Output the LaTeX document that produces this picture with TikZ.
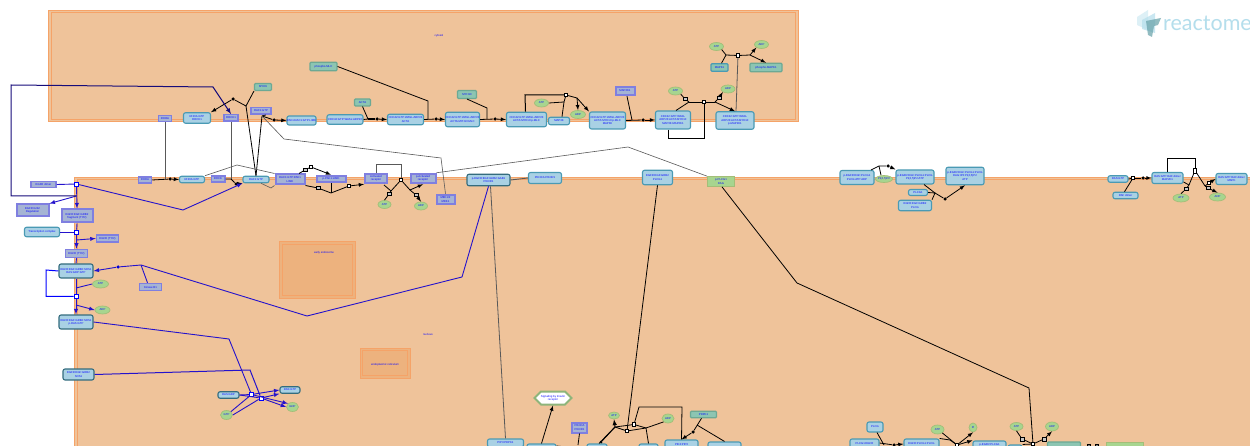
\documentclass[tikz,border=0pt]{standalone}
\usepackage{fontspec}
\setmainfont{Liberation Sans}
\newfontfamily\logofont{Lato}
\usetikzlibrary{shapes.geometric,shapes.misc,shapes.symbols}
\definecolor{compfill}{HTML}{EFC39A}
\definecolor{compline}{HTML}{F5A368}
\definecolor{subfill}{HTML}{EDB27E}
\definecolor{cplxfill}{HTML}{A9D1E4}
\definecolor{cplxline}{HTML}{4A9AB4}
\definecolor{protfill}{HTML}{A5B4D4}
\definecolor{protline}{HTML}{7F7FE0}
\definecolor{tealfill}{HTML}{8CC5B2}
\definecolor{tealline}{HTML}{6CA994}
\definecolor{chemfill}{HTML}{A7D58F}
\definecolor{chemline}{HTML}{A3BE78}
\definecolor{labelblue}{HTML}{0A0AFF}
\definecolor{linkblue}{HTML}{2412CC}
\definecolor{logoblue}{HTML}{B4DEEC}
\tikzset{
  every node/.style={font=\fontsize{2.8}{3.2}\selectfont, text=labelblue, align=center, inner sep=0pt},
  comp/.style={draw=compline, line width=1pt, fill=compfill},
  compin/.style={draw=compline, line width=1pt},
  cplx/.style={draw=cplxline, fill=cplxfill, line width=1.1pt, rectangle, rounded corners=2pt},
  prot/.style={draw=protline, fill=protfill, line width=1.5pt, rectangle},
  protb/.style={prot, line width=2pt},
  teal/.style={draw=tealline, fill=tealfill, line width=1.1pt, rectangle, rounded corners=1pt},
  chem/.style={draw=chemline, fill=chemfill, line width=.7pt, ellipse, minimum width=14pt, minimum height=8pt},
  ppi/.style={draw=chemline, fill=chemfill, line width=.8pt, rectangle},
  rxn/.style={draw=black, fill=white, line width=.6pt, rectangle, minimum size=3.5pt},
  brxn/.style={draw=blue, fill=white, line width=.8pt, rectangle, minimum size=4pt},
  grxn/.style={draw=black, fill=gray!45, line width=.5pt, rectangle, minimum size=3.5pt},
  bead/.style={fill=black, circle, minimum size=3.5pt},
  bbead/.style={fill=blue!85!black, circle, minimum size=3.5pt},
  rline/.style={draw=black, line width=.8pt},
  bline/.style={draw=linkblue, line width=.9pt},
  gline/.style={draw=black!65, line width=.6pt},
  >=latex
}
\begin{document}
\begin{tikzpicture}[x=1pt, y=-1pt]
  \path[use as bounding box, clip] (0,0) rectangle (1250,446);
  \fill[white] (0,0) rectangle (1250,446);
  % top compartment
  \draw[comp] (48.5,10.5) rectangle (798,122);
  \draw[compin] (51,13) rectangle (795.5,119.5);
  \node at (439,36) {cytosol};
  % main compartment
  \draw[comp] (74.5,177.5) rectangle (1270,470);
  \draw[compin] (77,180) rectangle (1270,470);
  \node at (428,334) {nucleus};
  % small compartments
  \draw[comp, fill=subfill] (279,242) rectangle (355,299);
  \draw[compin] (282,245) rectangle (352,296);
  \node at (324,253) {early endosome};
  \draw[comp, fill=subfill] (360,348) rectangle (410,378);
  \draw[compin] (362.5,350.5) rectangle (407.5,375.5);
  \node at (385,365) {endoplasmic reticulum};
  % logo
  \fill[logoblue, opacity=.45] (1137,17) -- (1148,10) -- (1148,30) -- (1137,25) -- cycle;
  \fill[logoblue, opacity=.7] (1142,20) -- (1155,13) -- (1155,33) -- (1142,29) -- cycle;
  \fill[logoblue!80!cyan!70!black, opacity=.7] (1146,21) -- (1161,18) -- (1158,25) -- (1154,26) -- (1152,37) -- (1148,35) -- cycle;
  \node[font=\logofont\fontsize{21.5}{22}\selectfont, text=logoblue, anchor=base west] (logo) at (1163,31) {reactome};

  % top row, left part
  \node[prot, minimum width=13pt, minimum height=6pt] (topA) at (165,118.5) {RHOA};
  \node[cplx, minimum width=27pt, minimum height=10.5pt] (topB) at (197,118) {RHOA:GTP\\ROCK1};
  \node[prot, minimum width=14pt, minimum height=6.5pt] (topC) at (231,118) {ROCK1};
  \node[teal, minimum width=17pt, minimum height=7pt] (topD) at (263,87) {MYH9};
  \node[prot, minimum width=20pt, minimum height=6.5pt] (topE) at (261,111) {RAC1:GTP};
  \node[cplx, minimum width=29pt, minimum height=9pt] (topF) at (301.5,120.5) {PAK1:RAC1:GTP:LIMK};
  \node[cplx, minimum width=36pt, minimum height=9.5pt] (topG) at (345,119.5) {CDC42:GTP:WASL:ARP23};
  \node[teal, minimum width=27pt, minimum height=8.5pt] (topH) at (323.5,66.5) {phospho-MLC};
  \node[teal, minimum width=16pt, minimum height=7pt] (topI) at (362.5,102.5) {ACTA};
  \node[cplx, minimum width=36pt, minimum height=10.5pt] (topJ) at (405.5,119.5) {CDC42:GTP:WASL:ARP23\\ACTA};
  \node[teal, minimum width=19pt, minimum height=8pt] (topK) at (467,94.5) {MYH10};
  \node[cplx, minimum width=32pt, minimum height=14.5pt] (topL) at (462.5,119.5) {CDC42:GTP:WASL:ARP23\\ACTA:MYH10:MLC};
  \node[cplx, minimum width=40pt, minimum height=14.5pt] (topM) at (526.5,119.5) {CDC42:GTP:WASL:ARP23\\ACTA:MYH10:p-MLC};
  \node[chem] (topN) at (541.5,103) {ATP};
  \node[cplx, minimum width=21pt, minimum height=7.5pt] (topO) at (559,121) {MAP3K};
  \node[chem, minimum width=15pt] (topP) at (578,114.5) {ADP};
  \node[cplx, minimum width=36pt, minimum height=17pt] (topQ) at (607.5,120.5) {CDC42:GTP:WASL:ARP23\\ACTA:MYH10:p-MLC\\MAP3K};
  \node[protb, minimum width=19pt, minimum height=8.5pt] (topR) at (625,91) {MAP2K1};
  \node[cplx, minimum width=35pt, minimum height=18pt] (topS) at (673,120) {CDC42:GTP:WASL\\ARP23:ACTA:MYH10\\MAP3K:MAP2K1};
  \node[chem] (topT) at (675.5,91) {ATP};
  \node[chem] (topU) at (728,89) {ADP};
  \node[cplx, minimum width=38pt, minimum height=17.5pt] (topV) at (735,120.5) {CDC42:GTP:WASL\\ARP23:ACTA:MYH10\\p-MAP2K1};
  \node[chem] (topW) at (716.5,46.5) {ATP};
  \node[chem] (topX) at (761.5,44.5) {ADP};
  \node[teal, draw=cplxline, minimum width=17pt, minimum height=7.5pt] (topY) at (719.5,67.5) {MAPK1};
  \node[teal, minimum width=32pt, minimum height=8.5pt] (topZ) at (766,67.5) {phospho-MAPK1};
  \node[rxn] (rxA) at (738,55.5) {};
  \node[rxn] (rxB) at (704,102) {};
  \node[grxn] (rxC) at (685,99) {};
  \node[grxn] (rxD) at (719,98) {};
  \node[rxn] (rxE) at (566,95) {};
  \node[bead] (dtA) at (233,99) {};
  \node[bead] (dtB) at (274,120) {};
  \node[bead] (dtC) at (377,119) {};
  \node[bead] (dtD) at (436,119) {};
  \node[bead] (dtE) at (495,119) {};
  \node[bead] (dtF) at (643,120) {};
  \coordinate (jnA) at (246,106);
  \coordinate (jnB) at (368,119);
  \coordinate (jnC) at (428,119);
  \coordinate (jnD) at (487,119);
  \coordinate (jnE) at (632,120);
  \coordinate (jnF) at (689,102);
  \coordinate (jnG) at (715,102);
  \coordinate (jnH) at (726,55);
  \coordinate (jnI) at (750,55);
  \coordinate (jnJ) at (564,102);
  \coordinate (jnK) at (577,98);
  \coordinate (jnL) at (262,116);
  % top row reactions
  \draw[rline] (topD.south west) -- (jnA) -- (dtA);
  \draw[rline, ->] (dtA) -- (topB.north east);
  \draw[rline] (topE.south east) ++(-6,0) -- (jnL);
  \draw[rline] (jnL) -- (dtB);
  \draw[rline, ->] (dtB) -- (topF.west);
  \draw[rline] (topG.east) ++(0,0) -- (jnB);
  \draw[rline] (topI.south) -- (jnB);
  \draw[rline, line width=1.2pt] (jnB) -- (dtC);
  \draw[rline, ->] (dtC) -- (topJ.west);
  \draw[rline] (topH.east) -- (428,101) -- (jnC);
  \draw[rline] (topJ.east) -- (dtD);
  \draw[rline, ->] (dtD) -- (topL.west);
  \draw[rline] (topK.south) ++(0,0) -- (487,108) -- (jnD);
  \draw[rline] (topL.east) -- (dtE);
  \draw[rline, ->] (dtE) -- (topM.west);
  \draw[rline, line width=1pt] (topM.north) ++(-1,0) -- (525,95) -- (rxE);
  \draw[rline] (topN.east) -- (jnJ) -- (rxE);
  \draw[rline] (topO.north) ++(3,0) -- (jnJ);
  \draw[rline] (rxE) -- (jnK);
  \draw[rline, ->] (jnK) -- (topP.north);
  \draw[rline, ->] (jnK) -- (topQ.north west);
  \draw[rline] (topR.south) ++(2,0) -- (jnE);
  \draw[rline] (topQ.east) -- (dtF);
  \draw[rline, ->] (dtF) -- (topS.west);
  \draw[rline] (topS.south) ++(-5,0) -- (668,138) -- (704,138) -- (rxB);
  \draw[rline] (topS.north) ++(3,0) -- (jnF);
  \draw[rline] (topT.south east) -- (rxC) -- (jnF);
  \draw[rline] (jnF) -- (rxB) -- (jnG);
  \draw[rline, ->] (jnG) -- (rxD) -- (topU.south west);
  \draw[rline, ->] (jnG) -- (topV.north);
  \draw[gline, line width=.8pt] (topV.north) ++(1,0) -- (rxA);
  \draw[rline] (topW.south east) -- (jnH);
  \draw[rline] (topY.north) ++(2,0) -- (jnH);
  \draw[rline] (jnH) -- (rxA) -- (jnI);
  \draw[rline, ->] (jnI) -- (topX.south west);
  \draw[rline, ->] (jnI) -- (topZ.north);

  % membrane row
  \node[prot, minimum width=25pt, minimum height=6pt] (memA) at (43.5,184.5) {EGFR dimer};
  \node[prot, minimum width=13pt, minimum height=6pt] (memB) at (145,180) {RHOA};
  \node[cplx, minimum width=25pt, minimum height=6.5pt] (memC) at (192,179.5) {RHOA:GTP};
  \node[prot, minimum width=13.5pt, minimum height=6pt] (memD) at (218,179) {ROCK};
  \node[cplx, minimum width=26pt, minimum height=6.5pt] (memE) at (256,179.5) {RAC1:GTP};
  \node[protb, minimum width=29pt, minimum height=10pt] (memF) at (290,179.5) {RAC1:GTP:PAK1\\LIMK};
  \node[protb, minimum width=29pt, minimum height=6.5pt] (memG) at (331,179) {p-PAK1:LIMK};
  \node[protb, minimum width=22pt, minimum height=9.5pt] (memH) at (376,178.5) {Activated\\receptor};
  \node[protb, minimum width=25pt, minimum height=9.5pt] (memI) at (423,178.5) {p-Activated\\receptor};
  \node[protb, minimum width=18pt, minimum height=9.5pt] (memJ) at (445.5,199.5) {MEK1/2\\MEK1};
  \node[chem, minimum width=13pt] (memK) at (384.5,204.5) {ATP};
  \node[chem, minimum width=13pt] (memL) at (421,206) {ADP};
  \node[cplx, draw=cplxline!70!black, minimum width=43pt, minimum height=11.5pt] (memM) at (488.5,180) {p-EGFR:EGF:GRB2:GAB1\\PIK3R1};
  \node[cplx, minimum width=33pt, minimum height=11pt] (memN) at (545,178) {PIK3CA:PIK3R1};
  \node[cplx, minimum width=30pt, minimum height=14.5pt] (memO) at (657.5,177.5) {EGFR:EGF:GRB2\\PLCG1};
  \node[ppi, minimum width=27.5pt, minimum height=10pt] (memP) at (721,181.5) {p-PLCG1\\DAG};
  \node[rxn] (rxF) at (311,167) {};
  \node[grxn] (rxG) at (305,170) {};
  \node[grxn] (rxH) at (318,188) {};
  \node[rxn] (rxI) at (349,186) {};
  \node[rxn] (rxJ) at (401,180) {};
  \node[grxn] (rxK) at (389,194) {};
  \node[grxn] (rxL) at (416,195) {};
  \node[bead] (dtG) at (170,179) {};
  \node[bead] (dtH) at (236,184) {};
  \coordinate (jnM) at (165,179);
  \coordinate (jnN) at (231,179);
  \coordinate (jnO) at (331,193);
  \coordinate (jnP) at (391,191);
  \coordinate (jnQ) at (410,190);
  \draw[rline] (memB.east) -- (dtG);
  \draw[rline, ->] (dtG) -- (memC.west);
  \draw[gline, line width=.8pt] (topA.south) -- (jnM);
  \draw[gline, line width=.8pt] (topC.south) -- (jnN);
  \draw[rline] (memD.east) -- (jnN) -- (dtH);
  \draw[rline, ->] (dtH) -- (memE.south west);
  \draw[rline] (jnA) -- (memE.north);
  \draw[rline] (jnL) -- (memE.north);
  \draw[gline] (jnL) -- (284,139) -- (441,158) -- (memJ.north);
  \draw[gline] (memC.north east) -- (237,165) -- (memF.north west);
  \draw[gline] (memE.south) ++(5,0) -- (271,188) -- (memF.south west);
  \draw[rline] (memF.north) ++(9,0) -- (rxG);
  \draw[rline] (rxG) -- (rxF);
  \draw[rline, ->] (rxF) -- (memG.north);
  \draw[rline] (memF.south east) -- (rxH) -- (jnO);
  \draw[rline] (memG.south) -- (jnO);
  \draw[rline, ->] (jnO) -- (rxI) -- (memH.south west);
  \draw[gline, line width=1pt] (memH.north) -- (376,165) -- (401,165) -- (rxJ);
  \draw[rline] (rxJ) -- (jnP);
  \draw[rline] (384,185) -- (jnP);
  \draw[rline] (jnP) -- (rxK) -- (memK.north);
  \draw[rline] (rxJ) -- (jnQ);
  \draw[rline, ->] (jnQ) -- (memI.south);
  \draw[rline, ->] (jnQ) -- (rxL) -- (memL.north);
  \draw[gline] (memI.north east) -- (628,147) -- (memP.north west);
  \draw[gline, line width=.9pt] (memM.east) -- (memN.west);

  % left column
  \node[protb, minimum width=32pt, minimum height=12pt] (lftA) at (32.5,210.5) {EGFR:Grb2\\Regulation};
  \node[protb, minimum width=31pt, minimum height=13pt] (lftB) at (77,216) {EGFR:EGF:GRB2\\fragment (TYR)};
  \node[cplx, minimum width=35pt, minimum height=9.5pt] (lftC) at (42,232) {Transcription complex};
  \node[prot, minimum width=22pt, minimum height=7pt] (lftD) at (107.5,238.5) {EGFR (TYR)};
  \node[prot, minimum width=22pt, minimum height=8pt] (lftE) at (76.5,253.5) {EGFR (TYR)};
  \node[cplx, draw=cplxline!70!black, minimum width=34pt, minimum height=14pt] (lftF) at (76,271) {EGFR:EGF:GRB2:SOS1\\RAS:GDP:GTP};
  \node[chem, minimum width=16pt] (lftG) at (100.5,284) {ATP};
  \node[chem, minimum width=15pt] (lftH) at (102.5,310) {ADP};
  \node[cplx, draw=cplxline!70!black, minimum width=34pt, minimum height=14pt] (lftI) at (76,322) {EGFR:EGF:GRB2:SOS1\\p-RAS:GTP};
  \node[prot, minimum width=22pt, minimum height=7pt] (lftJ) at (150.5,287) {Kinase B1};
  \node[brxn] (rxM) at (76.5,184) {};
  \node[brxn] (rxN) at (76.5,232) {};
  \node[brxn] (rxO) at (76,296.5) {};
  \node[bbead] (dtI) at (118,267) {};
  \coordinate (jnR) at (76.5,196);
  \coordinate (jnS) at (76.5,240);
  \coordinate (jnT) at (76,288);
  \coordinate (jnU) at (76,305);
  \coordinate (jnV) at (141,265);
  \draw[bline] (memA.east) -- (rxM);
  \draw[bline, ->] (rxM) -- (183,210) -- (memE.south west);
  \draw[bline, ->] (rxM) -- (lftB.north);
  \draw[bline, ->] (jnR) -- (lftA.north east);
  \draw[bline, ->, draw=black!40!linkblue, line width=1pt] (jnR) -- (11,196) -- (11,85) -- (213,87) -- (topC.north);
  \draw[bline] (lftB.south) -- (rxN);
  \draw[bline] (lftC.east) -- (rxN);
  \draw[bline, ->] (rxN) -- (lftE.north);
  \draw[bline, ->] (jnS) -- (lftD.west);
  \draw[bline] (lftE.south) -- (lftF.north);
  \draw[bline] (lftF.south) -- (rxO);
  \draw[bline, draw=blue, line width=1pt] (lftF.west) -- (46,270) -- (46,296.5) -- (rxO);
  \draw[bline] (lftG.west) -- (jnT);
  \draw[bline, ->] (rxO) -- (lftI.north);
  \draw[bline, ->] (jnU) -- (lftH.west);
  \draw[bline, ->] (jnV) -- (dtI) -- (lftF.east);
  \draw[bline] (lftJ.north) ++(-3,0) -- (jnV);
  \draw[bline] (jnV) -- (307,316) -- (462,277) -- (memM.south);

  % bottom left group
  \node[cplx, draw=cplxline!70!black, minimum width=31pt, minimum height=11pt] (botA) at (78.5,374.5) {EGFR:EGF:GRB2\\SOS1};
  \node[cplx, draw=cplxline!70!black, minimum width=21pt, minimum height=6.5pt] (botB) at (228.5,395) {RAS:GDP};
  \node[cplx, draw=cplxline!70!black, minimum width=20pt, minimum height=6.5pt] (botC) at (290,390) {RAS:GTP};
  \node[chem, minimum width=12pt, minimum height=9pt] (botD) at (226.5,415) {GTP};
  \node[chem, minimum width=12pt, minimum height=9pt] (botE) at (292.5,407) {GDP};
  \node[brxn] (rxP) at (251.5,394.5) {};
  \node[brxn] (rxQ) at (261,398) {};
  \draw[bline] (lftI.east) -- (229,339) -- (rxP);
  \draw[bline, line width=1pt] (botA.east) -- (250,370) -- (rxQ);
  \draw[bline] (botB.east) -- (rxP);
  \draw[bline] (botB.east) -- (rxQ);
  \draw[bline] (botD.north east) -- (rxP);
  \draw[bline] (botD.east) -- (rxQ);
  \draw[bline, ->] (rxP) -- (botC.west);
  \draw[bline, ->] (rxQ) -- (botC.south west);
  \draw[bline, ->] (rxP) -- (botE.north west);
  \draw[bline, ->] (rxQ) -- (botE.west);

  % bottom centre group
  \node[draw=chemfill!85!black, fill=white, line width=2pt, signal, signal to=east and west, minimum width=34pt, minimum height=13pt] (cpH) at (553,398) {Signaling by Insulin\\receptor};
  \node[protb, minimum width=15pt, minimum height=10pt] (cpB) at (579.5,427.5) {PIK3CA\\PIK3R1};
  \node[cplx, minimum width=36pt, minimum height=8pt] (cpA) at (505.5,443) {PIP3:PDPK1};
  \node[cplx, minimum width=29pt, minimum height=10pt] (cpC) at (541.5,449) {};
  \node[cplx, minimum width=20pt, minimum height=10pt] (cpD) at (597,449) {};
  \node[cplx, minimum width=19pt, minimum height=10pt] (cpE) at (648.5,449) {};
  \node[cplx, minimum width=33pt, minimum height=9pt] (cpF) at (681.5,444.5) {PIK3:PIP3};
  \node[cplx, minimum width=33pt, minimum height=6pt] (cpG) at (724.5,445) {};
  \node[teal, minimum width=26pt, minimum height=6.5pt] (cpI) at (703.5,414.5) {PDPK1};
  \node[chem, minimum width=11pt, minimum height=7pt] (cpJ) at (614,415.5) {ATP};
  \node[chem, minimum width=12pt, minimum height=9pt] (cpK) at (668,418.5) {ADP};
  \node[rxn] (rxR) at (627,431) {};
  \node[rxn] (rxS) at (634,424.5) {};
  \node[bead] (dtJ) at (693,432) {};
  \node[bead, minimum size=3pt] (dtK) at (601,442) {};
  \coordinate (jnW) at (615,427);
  \coordinate (jnX) at (646,428);
  \coordinate (jnY) at (697,425);
  \draw[gline, line width=.8pt] (memM.south) ++(2,0) -- (cpA.north);
  \draw[rline, ->] (cpC.north) -- (cpH.south);
  \draw[rline] (cpB.south) -- (578,445);
  \draw[rline] (cpC.east) ++(0,-3) -- (cpD.west);
  \draw[rline, ->, line width=1pt] (dtK) -- (jnW) -- (cpJ.south);
  \draw[rline] (cpD.north) ++(2,0) -- (jnW);
  \draw[rline] (jnW) -- (rxR) -- (jnX);
  \draw[rline] (jnW) -- (rxS) -- (jnX);
  \draw[rline] (jnX) -- (cpK.south west);
  \draw[rline] (jnX) -- (cpE.north);
  \draw[rline] (rxS) -- (639,407) -- (682,407) -- (cpF.north);
  \draw[rline] (memO.south) -- (rxR);
  \draw[rline] (cpI.south) ++(-2,0) -- (dtJ);
  \draw[rline, ->] (dtJ) -- (cpF.north);
  \draw[rline] (jnY) -- (cpG.north);

  % bottom right group
  \node[cplx, minimum width=16pt, minimum height=10pt] (brA) at (875,427) {PLCG};
  \node[cplx, minimum width=29pt, minimum height=10pt] (brB) at (864.5,444) {PLCG1:EGFR};
  \node[cplx, minimum width=35pt, minimum height=10pt] (brC) at (921.5,444) {EGFR:PLCG1:PLCG};
  \node[cplx, minimum width=33pt, minimum height=7pt] (brD) at (989.5,444.5) {p-EGFR:PLCG1};
  \node[chem, minimum width=13pt, minimum height=9pt] (brE) at (937.5,429.5) {ATP};
  \node[chem, minimum width=8pt, minimum height=9pt] (brF) at (973,427.5) {Pi};
  \node[chem, minimum width=13pt] (brG) at (1016.5,426.5) {ATP};
  \node[chem, minimum width=13pt, minimum height=9pt] (brH) at (1052,426.5) {ADP};
  \node[cplx, minimum width=14pt, minimum height=6pt] (brI) at (1015,448) {};
  \node[teal, minimum width=33pt, minimum height=12pt] (brJ) at (1064,448) {};
  \node[ppi, minimum width=37pt, minimum height=12pt] (brK) at (1125,448) {};
  \node[rxn] (rxT) at (957,445) {};
  \node[rxn] (rxU) at (1033,444) {};
  \node[grxn] (rxV) at (1022,439) {};
  \node[grxn] (rxW) at (1044,439) {};
  \node[bead] (dtL) at (894,445) {};
  \node[rxn, fill=black!50, minimum size=2.5pt] (rxX) at (1089,446) {};
  \node[rxn, fill=black!50, minimum size=2.5pt] (rxY) at (1097,446) {};
  \coordinate (jnZ) at (884,445);
  \draw[rline] (brA.south) ++(2,0) -- (jnZ);
  \draw[rline] (brB.east) ++(0,-1) -- (dtL);
  \draw[rline, ->] (dtL) -- (brC.west);
  \draw[rline] (brE.south east) -- (rxT);
  \draw[rline] (brC.north east) -- (950,440) -- (rxT);
  \draw[rline, ->] (rxT) -- (brF.south);
  \draw[rline, ->] (rxT) -- (brD.north west);
  \draw[rline] (brG.south) -- (rxV) -- (rxU);
  \draw[rline, ->] (rxU) -- (rxW) -- (brH.south);
  \draw[rline] (brI.north east) -- (rxU);
  \draw[rline] (memP.south) ++(1,0) -- (797,283) -- (1029,388) -- (rxU);

  % far right group
  \node[cplx, minimum width=20pt, minimum height=6.5pt] (rgA) at (1118,179) {RAS:GTP};
  \node[cplx, minimum width=25pt, minimum height=6.5pt] (rgB) at (1125.5,195.5) {RAF dimer};
  \node[cplx, minimum width=31pt, minimum height=11pt] (rgC) at (1167.5,178) {RAS:GTP:RAF dimer\\MAP2K1};
  \node[cplx, minimum width=31pt, minimum height=11pt] (rgD) at (1231.5,179) {RAS:GTP:RAF dimer\\MAPK};
  \node[chem, minimum width=16pt] (rgE) at (1181,198) {ATP};
  \node[chem, minimum width=16pt] (rgF) at (1217.5,197) {ADP};
  \node[rxn] (rxZ) at (1133,178) {};
  \node[rxn, minimum height=5pt] (rxAa) at (1195,170.5) {};
  \node[grxn] (rxAb) at (1186,189) {};
  \node[rxn] (rxAc) at (1209,183) {};
  \node[grxn] (rxAd) at (1208,188) {};
  \node[bead] (dtM) at (1143,178) {};
  \coordinate (jnAa) at (1189,185);
  \coordinate (jnAb) at (1205,186);
  \draw[rline] (rgA.east) -- (rxZ);
  \draw[rline] (rgB.north) ++(-1,0) -- (rxZ);
  \draw[rline] (rxZ) -- (dtM);
  \draw[rline, ->] (dtM) -- (rgC.west);
  \draw[rline] (rgC.north) -- (1167.5,158) -- (1195,158) -- (rxAa);
  \draw[rline] (rgC.east) ++(0,4) -- (jnAa);
  \draw[rline] (rxAa) -- (jnAa) -- (rxAb) -- (rgE.north);
  \draw[rline] (rxAa) -- (jnAb);
  \draw[rline, ->] (jnAb) -- (rxAc) -- (rgD.west);
  \draw[rline, ->] (jnAb) -- (rxAd) -- (rgF.north);

  % complexes near the right of the membrane
  \node[cplx, minimum width=34pt, minimum height=14pt] (mrA) at (857,177.5) {p-EGFR:EGF:PLCG1\\PLCG:ATP:ADP};
  \node[chem, minimum width=17pt, minimum height=7pt] (mrB) at (884,179) {PI(4,5)P2};
  \node[cplx, minimum width=38pt, minimum height=14pt] (mrC) at (915,177) {p-EGFR:EGF:PLCG1:PLCG\\PI(4,5)P2:ATP};
  \node[cplx, minimum width=38pt, minimum height=17.5pt] (mrD) at (965,176) {p-EGFR:EGF:PLCG1:PLCG\\DAG:IP3:PI(4,5)P2\\ATP};
  \node[cplx, minimum width=19pt, minimum height=6pt] (mrE) at (918,192.5) {PLCG1};
  \node[cplx, minimum width=33pt, minimum height=10.5pt] (mrF) at (915,205.5) {EGFR:EGF:GRB2\\PLCG};
  \node[bead] (dtN) at (888,166) {};
  \node[bead] (dtO) at (945,199) {};
  \coordinate (jnAc) at (879,166);
  \coordinate (jnAd) at (935,193);
  \draw[rline] (mrA.north) ++(14,0) -- (jnAc) -- (dtN);
  \draw[rline, ->] (dtN) -- (mrC.north west);
  \draw[rline] (mrB.north) ++(-3,0) -- (jnAc);
  \draw[rline] (mrC.south) ++(9,0) -- (jnAd);
  \draw[rline] (mrE.east) -- (jnAd);
  \draw[rline] (mrF.north east) -- (jnAd);
  \draw[rline] (jnAd) -- (dtO);
  \draw[rline, ->] (dtO) -- (mrD.south);
\end{tikzpicture}
\end{document}
